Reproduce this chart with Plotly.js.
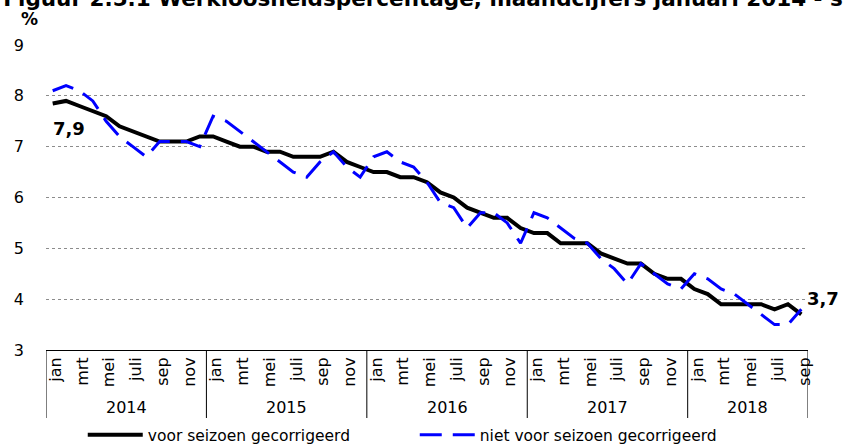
<!DOCTYPE html>
<html><head><meta charset="utf-8">
<script src="https://cdn.plot.ly/plotly-3.0.1.min.js"></script>
<style>html,body{margin:0;padding:0;background:#fff}#chart{width:843px;height:445px}</style>
</head><body><div id="chart"></div>
<script>
const monthNames = ['jan','feb','mrt','apr','mei','jun','juli','aug','sep','okt','nov','dec'];
const years = ['2014','2015','2016','2017','2018'];
const monthsPerYear = [12,12,12,12,9];
const titleText = 'Figuur 2.5.1 Werkloosheidspercentage, maandcijfers januari 2014 - september 2018';
const unitLabel = '%';
const seriesNames = ['voor seizoen gecorrigeerd','niet voor seizoen gecorrigeerd'];
const seasonallyAdjusted = [
  7.85,7.9,7.8,7.7,7.6,7.4,7.3,7.2,7.1,7.1,7.1,7.2,
  7.2,7.1,7.0,7.0,6.9,6.9,6.8,6.8,6.8,6.9,6.7,6.6,
  6.5,6.5,6.4,6.4,6.3,6.1,6.0,5.8,5.7,5.6,5.6,5.4,
  5.3,5.3,5.1,5.1,5.1,4.9,4.8,4.7,4.7,4.5,4.4,4.4,
  4.2,4.1,3.9,3.9,3.9,3.9,3.8,3.9,3.7
];
const notSeasonallyAdjusted = [
  8.1,8.2,8.1,7.9,7.5,7.2,7.0,6.8,7.1,7.1,7.1,7.0,
  7.6,7.5,7.3,7.1,6.9,6.7,6.5,6.4,6.7,6.9,6.6,6.4,
  6.8,6.9,6.7,6.6,6.3,5.9,5.8,5.4,5.7,5.7,5.5,5.1,
  5.7,5.6,5.4,5.2,5.1,4.8,4.6,4.3,4.7,4.5,4.3,4.2,
  4.5,4.4,4.2,4.1,3.9,3.7,3.5,3.5,3.8
];
const yTicks = [3,4,5,6,7,8,9];

// categories
const categories = [], monthLabel = [];
years.forEach((y,yi)=>{ for(let m=0;m<monthsPerYear[yi];m++){ categories.push(monthNames[m]+' '+y); monthLabel.push(monthNames[m]); } });
const tickvals = categories.filter((c,i)=>i%2===0);
const ticktext = monthLabel.filter((c,i)=>i%2===0);

const fmt = v => (Math.round(v*10)/10).toFixed(1).replace('.',',');
const FONT = 'DejaVu Sans, Verdana, sans-serif';

const shapes = [], annotations = [];
let start = 0;
years.forEach((y,yi)=>{
  const n = monthsPerYear[yi];
  shapes.push({type:'line', xref:'x', yref:'paper', x0:start-0.5, x1:start-0.5, y0:0, y1:-0.223, line:{color:'#000',width:1}});
  annotations.push({xref:'x', yref:'paper', x:start+(n-1)/2, y:-0.187, yanchor:'middle', text:y, showarrow:false, font:{family:FONT,size:16,color:'#000'}});
  start += n;
});
shapes.push({type:'line', xref:'x', yref:'paper', x0:start-0.5, x1:start-0.5, y0:0, y1:-0.223, line:{color:'#000',width:1}});

const last = seasonallyAdjusted.length-1;
annotations.push({xref:'x', yref:'y', x:0, y:seasonallyAdjusted[0], xanchor:'left', yanchor:'middle', xshift:-2, yshift:-25, text:'<b>'+fmt(seasonallyAdjusted[0])+'</b>', showarrow:false, font:{family:FONT,size:18,color:'#000'}});
annotations.push({xref:'x', yref:'y', x:last, y:seasonallyAdjusted[last], xanchor:'left', yanchor:'middle', xshift:4, yshift:16, text:'<b>'+fmt(seasonallyAdjusted[last])+'</b>', showarrow:false, font:{family:FONT,size:18,color:'#000'}});
annotations.push({xref:'paper', yref:'paper', x:-0.021, y:1.085, xanchor:'center', yanchor:'middle', text:'<b>'+unitLabel+'</b>', showarrow:false, font:{family:FONT,size:17,color:'#000'}});

const traces = [
  {x:categories, y:seasonallyAdjusted, name:seriesNames[0], type:'scatter', mode:'lines', line:{color:'#000000', width:4}},
  {x:categories, y:notSeasonallyAdjusted, name:seriesNames[1], type:'scatter', mode:'lines', line:{color:'#0000FF', width:3, dash:'22px,11px'}}
];

const layout = {
  width:843, height:445,
  margin:{l:46, r:35, t:44.5, b:95, pad:0},
  paper_bgcolor:'#fff', plot_bgcolor:'#fff',
  font:{family:FONT, color:'#000'},
  title:{text:'<b>'+titleText+'</b>', xref:'container', yref:'paper', x:0.004, xanchor:'left', y:1, yanchor:'bottom', pad:{b:39}, font:{family:FONT,size:21.5,color:'#000'}},
  xaxis:{type:'category', range:[-0.5, categories.length-0.5], tickvals:tickvals, ticktext:ticktext, tickangle:-90,
    showgrid:false, zeroline:false, showline:true, linecolor:'#000', linewidth:1, ticks:'', ticklabelshift:3,
    tickfont:{family:FONT,size:16,color:'#000'}, fixedrange:true},
  yaxis:{range:[3,9], tickvals:yTicks, showgrid:true, gridcolor:'#8c8c8c', griddash:'dot', gridwidth:1, zeroline:false,
    showline:false, ticks:'', ticklabelstandoff:21, tickfont:{family:FONT,size:16,color:'#000'}, fixedrange:true},
  showlegend:true,
  legend:{orientation:'h', xref:'container', yref:'container', x:0.492, xanchor:'center', y:0.022, yanchor:'middle',
    itemwidth:55, entrywidth:262, font:{family:FONT,size:15.5,color:'#000'}, bgcolor:'rgba(0,0,0,0)', tracegroupgap:0},
  shapes:shapes, annotations:annotations, hovermode:false
};
Plotly.newPlot('chart', traces, layout, {displayModeBar:false, staticPlot:true});
</script></body></html>
